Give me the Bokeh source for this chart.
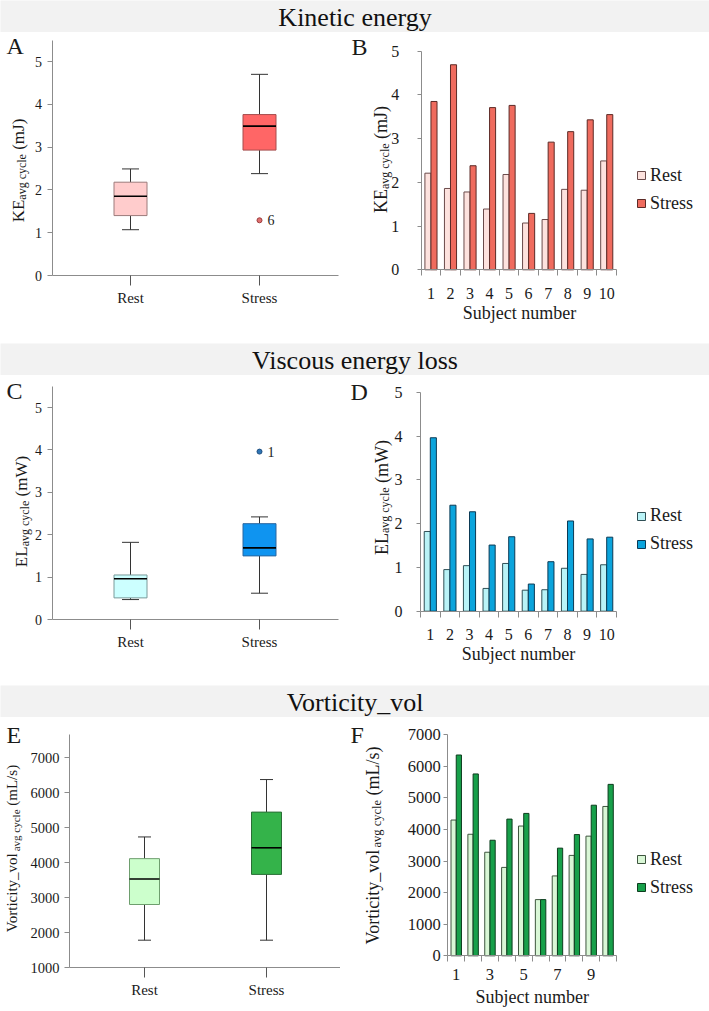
from math import pi
from bokeh.plotting import figure
from bokeh.models import Label, FixedTicker, Legend, LegendItem, Range1d, LinearAxis
from bokeh.layouts import column, row
from bokeh.embed import file_html
from bokeh.resources import INLINE

FONT = "Liberation Serif"
TXT = "#1a1a1a"
AX = "#8c8c8c"
MID = 0.3375  # distance (em) from alphabetic baseline up to the em-box middle

# ---------------- data ----------------
groups = ["Rest", "Stress"]
subjects = [1, 2, 3, 4, 5, 6, 7, 8, 9, 10]
f_tick_labels = [1, 3, 5, 7, 9]

ke_rest = [2.21, 1.86, 1.78, 1.39, 2.18, 1.07, 1.15, 1.84, 1.82, 2.49]
ke_stress = [3.85, 4.69, 2.38, 3.71, 3.76, 1.29, 2.92, 3.16, 3.43, 3.55]
el_rest = [1.82, 0.95, 1.04, 0.52, 1.09, 0.48, 0.49, 0.98, 0.84, 1.06]
el_stress = [3.96, 2.42, 2.27, 1.51, 1.70, 0.62, 1.13, 2.06, 1.65, 1.69]
vort_rest = [4300, 3850, 3280, 2800, 4110, 1780, 2530, 3180, 3790, 4730]
vort_stress = [6360, 5760, 3660, 4330, 4510, 1780, 3410, 3840, 4770, 5430]

# box plot statistics (Rest, Stress)
ke_lo = [1.07, 2.38]
ke_q1 = [1.40, 2.93]
ke_med = [1.85, 3.49]
ke_q3 = [2.18, 3.76]
ke_hi = [2.49, 4.70]
ke_out_group = ["Stress"]
ke_out_val = [1.29]
ke_out_lab = ["6"]

el_lo = [0.47, 0.62]
el_q1 = [0.51, 1.50]
el_med = [0.96, 1.69]
el_q3 = [1.05, 2.26]
el_hi = [1.82, 2.42]
el_out_group = ["Stress"]
el_out_val = [3.96]
el_out_lab = ["1"]

vo_lo = [1780, 1780]
vo_q1 = [2800, 3660]
vo_med = [3530, 4420]
vo_q3 = [4110, 5440]
vo_hi = [4730, 6370]

energy_ticks = [0, 1, 2, 3, 4, 5]
vort_box_ticks = [1000, 2000, 3000, 4000, 5000, 6000, 7000]
vort_bar_ticks = [0, 1000, 2000, 3000, 4000, 5000, 6000, 7000]

# Liberation Serif advance widths (1/1000 em)
W = {" ": 250, "(": 333, ")": 333, "/": 278, "_": 500, "A": 722, "E": 611, "K": 722,
     "L": 611, "V": 722, "W": 944, "J": 389, "a": 444, "b": 500, "c": 444, "e": 444,
     "g": 500, "i": 278, "j": 278, "l": 278, "m": 778, "n": 500, "o": 500, "r": 333,
     "s": 389, "t": 278, "u": 500, "v": 500, "y": 500}


def tw(s, size):
    return sum(W.get(c, 500) for c in s) * size / 1000.0


class Geo:
    """pixel <-> data mapping for a figure whose frame covers the whole canvas"""
    def __init__(self, w, h, xa, xb, ya, yb):
        self.w, self.h = w, h
        self.sx = (xb[1] - xa[1]) / (xb[0] - xa[0])
        self.x0 = xa[1] - xa[0] * self.sx
        self.sy = (yb[1] - ya[1]) / (yb[0] - ya[0])
        self.ytop = ya[1] - ya[0] * self.sy

    def x(self, px):
        return self.x0 + px * self.sx

    def y(self, py):
        return self.ytop + py * self.sy


def base_fig(g):
    p = figure(width=g.w, height=g.h, x_range=Range1d(g.x(0), g.x(g.w)),
               y_range=Range1d(g.y(g.h), g.y(0)), title=None,
               x_axis_location=None, y_axis_location=None,
               output_backend="svg", toolbar_location=None, min_border=0)
    p.grid.visible = False
    p.outline_line_color = None
    p.background_fill_color = "white"
    p.border_fill_color = "white"
    return p


def add_axis(p, side, loc, bounds, ticks, font_size, tick_out, standoff,
             tick_color=AX, minor=None, minor_out=0, overrides=None):
    ax = LinearAxis(fixed_location=loc, bounds=bounds,
                    ticker=FixedTicker(ticks=ticks, minor_ticks=minor or []))
    ax.axis_line_color = AX
    ax.major_tick_line_color = tick_color if tick_out > 0 else None
    ax.major_tick_out = tick_out
    ax.major_tick_in = 0
    ax.minor_tick_line_color = AX if minor else None
    ax.minor_tick_out = minor_out
    ax.minor_tick_in = 0
    ax.major_label_standoff = standoff
    ax.major_label_text_font = FONT
    ax.major_label_text_font_size = font_size
    ax.major_label_text_color = TXT
    if overrides:
        ax.major_label_overrides = overrides
    p.add_layout(ax, side)
    return ax


def letter(p, g, x, base_top, t, size=24):
    p.add_layout(Label(x=x, y=g.h - (base_top - MID * size), x_units="screen", y_units="screen",
                       text=t, text_font=FONT, text_font_size=f"{size}px", text_color=TXT,
                       text_align="left", text_baseline="middle"))


def ylabel(p, g, base_x, yc_top, main, sub, unit, s1, s2, shift):
    gap = tw(" ", s1)
    total = tw(main, s1) + tw(sub, s2) + gap + tw(unit, s1)
    y = (g.h - yc_top) - total / 2
    for t, s, dx in [(main, s1, 0), (sub, s2, shift), (unit, s1, 0)]:
        p.add_layout(Label(x=base_x + dx - MID * s, y=y, x_units="screen", y_units="screen",
                           text=t, angle=pi / 2, text_align="left", text_baseline="middle",
                           text_font=FONT, text_font_size=f"{s}px", text_color=TXT))
        y += tw(t, s) + (gap if t == sub else 0)


def xtitle(p, g, x, mid_top, t, size=18):
    p.add_layout(Label(x=x, y=g.h - mid_top, x_units="screen", y_units="screen", text=t,
                       text_align="center", text_baseline="middle",
                       text_font=FONT, text_font_size=f"{size}px", text_color=TXT))


def boxplot(p, g, lo, q1, med, q3, hi, fills, edges, bw_px, cw_px, axis_px, ybounds,
            xend_px, yticks, ytick_size, whisk="#333333"):
    xs = [i + 1 for i in range(len(groups))]
    bw = bw_px * g.sx
    cw = cw_px * g.sx
    p.segment(xs, q3, xs, hi, line_color=whisk, line_width=1)
    p.segment(xs, lo, xs, q1, line_color=whisk, line_width=1)
    p.segment([x - cw / 2 for x in xs], hi, [x + cw / 2 for x in xs], hi, line_color=whisk, line_width=1)
    p.segment([x - cw / 2 for x in xs], lo, [x + cw / 2 for x in xs], lo, line_color=whisk, line_width=1)
    p.vbar(x=xs, width=bw, bottom=q1, top=q3, fill_color=fills, line_color=edges, line_width=1)
    p.segment([x - bw / 2 for x in xs], med, [x + bw / 2 for x in xs], med,
              line_color="black", line_width=1.6)
    xa = g.x(axis_px)
    add_axis(p, "left", xa, ybounds, yticks, ytick_size, 5, 5)
    add_axis(p, "below", ybounds[0], (xa, g.x(xend_px)), xs, "15px", 10, 4,
             tick_color="#555555", overrides={x: n for x, n in zip(xs, groups)})


def outliers(p, grp, vals, labs, fill, edge):
    xs = [groups.index(gr) + 1 for gr in grp]
    p.scatter(xs, vals, size=5, fill_color=fill, line_color=edge, line_width=1)
    for x, v, t in zip(xs, vals, labs):
        p.add_layout(Label(x=x, y=v, x_offset=8, text=t, text_baseline="middle",
                           text_font=FONT, text_font_size="14px", text_color=TXT))


def barchart(p, g, rest, stress, fills, edges, lab_ticks, yticks, ybounds, tick_size,
             x_standoff, y_standoff, leg_x, leg_y_top, bw=0.31):
    r1 = p.vbar(x=[s - bw / 2 for s in subjects], width=bw, bottom=0, top=rest,
                fill_color=fills[0], line_color=edges[0], line_width=1)
    r2 = p.vbar(x=[s + bw / 2 for s in subjects], width=bw, bottom=0, top=stress,
                fill_color=fills[1], line_color=edges[1], line_width=1)
    xb = (subjects[0] - 0.5, subjects[-1] + 0.5)
    add_axis(p, "left", xb[0], ybounds, yticks, tick_size, 4, y_standoff)
    add_axis(p, "below", ybounds[0], xb, lab_ticks, tick_size, 0, x_standoff,
             minor=[s - 0.5 for s in subjects] + [subjects[-1] + 0.5], minor_out=6)
    leg = Legend(items=[LegendItem(label=groups[0], renderers=[r1]),
                        LegendItem(label=groups[1], renderers=[r2])],
                 location=(leg_x, g.h - leg_y_top), orientation="vertical",
                 glyph_width=10, glyph_height=10,
                 label_standoff=4, label_text_font=FONT, label_text_font_size="18px",
                 label_text_color=TXT, spacing=7, padding=0, margin=0,
                 border_line_color=None, background_fill_color=None)
    p.add_layout(leg)


def header(text, size=26, base_top=26):
    h = figure(width=709, height=32, x_range=Range1d(0, 1), y_range=Range1d(0, 32),
               x_axis_location=None, y_axis_location=None, title=None,
               output_backend="svg", toolbar_location=None, min_border=0,
               background_fill_color="#f2f2f2", border_fill_color="#f2f2f2")
    h.outline_line_color = None
    h.grid.visible = False
    h.add_layout(Label(x=0.5, y=32 - (base_top - MID * size), text=text, text_align="center",
                       text_baseline="middle", text_font=FONT, text_font_size=f"{size}px",
                       text_color="#111111"))
    return h


# ---------------- Panel A ----------------
gA = Geo(340, 311, (130, 1), (259, 2), (243, 0), (29, 5))
pA = base_fig(gA)
boxplot(pA, gA, ke_lo, ke_q1, ke_med, ke_q3, ke_hi, ["#ffcccc", "#ff6666"],
        ["#9c7a7a", "#a64d4d"], 33, 17, 51.5, (0, 5.5), 338, energy_ticks, "14px")
outliers(pA, ke_out_group, ke_out_val, ke_out_lab, "#e07070", "#9c3c3c")
letter(pA, gA, 6, 22, "A")
ylabel(pA, gA, 24, 138, "KE", "avg cycle", "(mJ)", 17, 12, 2)

# ---------------- Panel B ----------------
gB = Geo(369, 311, (80.7, 0.5), (276, 10.5), (237.3, 0), (18.7, 5))
pB = base_fig(gB)
barchart(pB, gB, ke_rest, ke_stress, ["#fde2de", "#ef6b5e"], ["#6b4b4b", "#5c2a26"],
         subjects, energy_ticks, (0, 5), "16px", 12, 18, 296, 181.5)
letter(pB, gB, 11, 23, "B")
ylabel(pB, gB, 47, 127, "KE", "avg cycle", "(mJ)", 18, 12, 1.5)
xtitle(pB, gB, 179, 280, "Subject number")

# ---------------- Panel C ----------------
gC = Geo(340, 310, (130, 1), (259, 2), (244, 0), (32, 5))
pC = base_fig(gC)
boxplot(pC, gC, el_lo, el_q1, el_med, el_q3, el_hi, ["#ccffff", "#0f94f0"],
        ["#7a9a9a", "#2a66a0"], 33, 17, 51.5, (0, 5.5), 338, energy_ticks, "14px")
outliers(pC, el_out_group, el_out_val, el_out_lab, "#2e75b6", "#1f4f80")
letter(pC, gC, 6, 24, "C")
ylabel(pC, gC, 27, 136, "EL", "avg cycle", "(mW)", 17, 12, 2)

# ---------------- Panel D ----------------
gD = Geo(369, 310, (80, 0.5), (276, 10.5), (235.7, 0), (16.7, 5))
pD = base_fig(gD)
barchart(pD, gD, el_rest, el_stress, ["#b9f3f7", "#0ba4dc"], ["#2f4f55", "#0b3a55"],
         subjects, energy_ticks, (0, 5), "16px", 12, 14, 296, 179)
letter(pD, gD, 10, 25, "D")
ylabel(pD, gD, 47.5, 122, "EL", "avg cycle", "(mW)", 18, 12, 1.5)
xtitle(pD, gD, 178, 278.5, "Subject number")

# ---------------- Panel E ----------------
gE = Geo(340, 292, (144, 1), (266, 2), (250, 1000), (40, 7000))
pE = base_fig(gE)
boxplot(pE, gE, vo_lo, vo_q1, vo_med, vo_q3, vo_hi, ["#ccffcc", "#34b34a"],
        ["#6e9e6e", "#2a6e36"], 30, 13, 69, (1000, 7670), 340, vort_box_ticks, "14.5px")
letter(pE, gE, 6, 26, "E")
ylabel(pE, gE, 17, 131, "Vorticity_vol", "avg cycle", "(mL/s)", 15, 11, 2)

# ---------------- Panel F ----------------
gF = Geo(369, 292, (107.3, 0.5), (276, 10.5), (238.3, 0), (17.3, 7000))
pF = base_fig(gF)
barchart(pF, gF, vort_rest, vort_stress, ["#d9f7d6", "#17a04a"], ["#3e553e", "#0d3d1e"],
         f_tick_labels, vort_bar_ticks, (0, 7000), "16.5px", 7, 3, 296, 180.5)
letter(pF, gF, 10, 26, "F")
ylabel(pF, gF, 39, 128, "Vorticity_vol", "avg cycle", "(mL/s)", 18, 12.5, 2)
xtitle(pF, gF, 191.7, 279, "Subject number")

layout = column(
    header("Kinetic energy"),
    row(pA, pB),
    header("Viscous energy loss"),
    row(pC, pD),
    header("Vorticity_vol"),
    row(pE, pF),
)

open("out.html", "w").write(file_html(layout, INLINE))
